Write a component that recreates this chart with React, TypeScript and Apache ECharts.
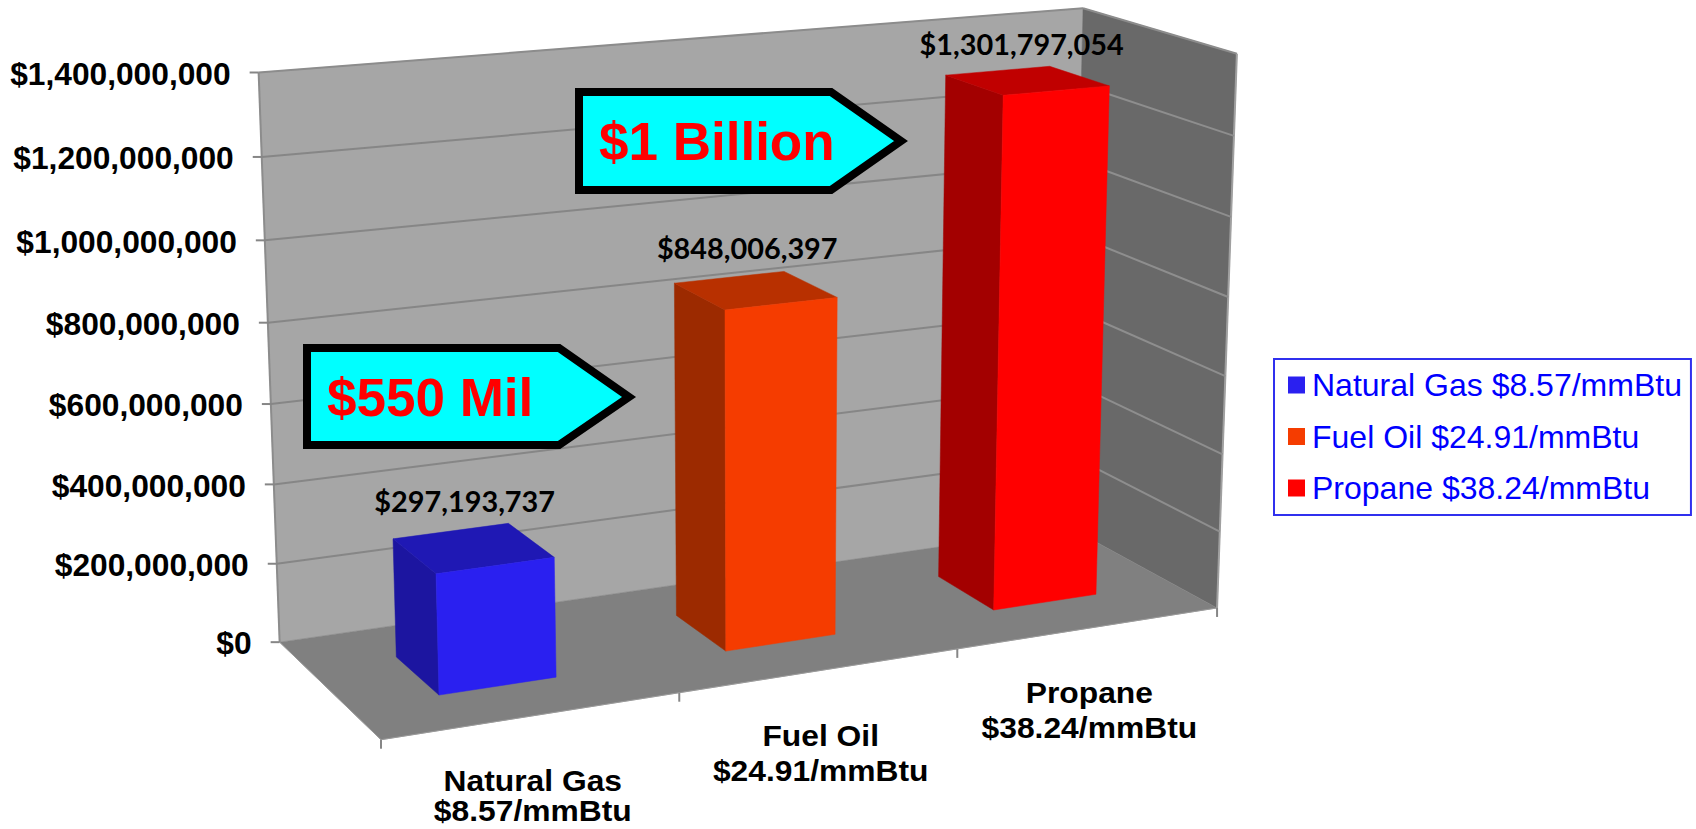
import React, { useEffect, useRef } from "react";
import * as echarts from "echarts";

const categories = ["Natural Gas", "Fuel Oil", "Propane"];
const prices = ["$8.57/mmBtu", "$24.91/mmBtu", "$38.24/mmBtu"];
const values = [297193737, 848006397, 1301797054];
const seriesNames = ["Natural Gas $8.57/mmBtu", "Fuel Oil $24.91/mmBtu", "Propane $38.24/mmBtu"];
const tickValues = [0, 200000000, 400000000, 600000000, 800000000, 1000000000, 1200000000, 1400000000];
const callouts = ["$550 Mil", "$1 Billion"];

const frontColors = ["#2a20f0", "#f53c00", "#ff0000"];
const sideColors = ["#1c15a0", "#9c2a00", "#a30000"];
const topColors = ["#1f18b4", "#b83000", "#c00000"];
const labelDx = [14, 18, 24];
const labelDy = [-30, -29, -27];

const GRID = { left: 280, top: 72, width: 792, height: 570 };

// Camera calibration: unit-box point [u, v, w] -> screen point of the walls
const calib: number[][] = [
  [0, 1, 0, 260, 72], [0, 6 / 7, 0, 262, 157], [0, 5 / 7, 0, 264, 241], [0, 4 / 7, 0, 267, 323],
  [0, 3 / 7, 0, 270.5, 404], [0, 2 / 7, 0, 273, 484], [0, 1 / 7, 0, 277, 563], [0, 0, 0, 280, 642],
  [1, 1, 0, 1082, 9], [0, 0, 1, 382, 740], [1 / 3, 0, 1, 679, 693], [2 / 3, 0, 1, 957, 650],
  [1, 0, 1, 1216, 607], [1, 1, 1, 1237, 53], [1, 6 / 7, 1, 1234, 136], [1, 5 / 7, 1, 1232, 217],
  [1, 4 / 7, 1, 1229, 297], [1, 3 / 7, 1, 1225, 376], [1, 2 / 7, 1, 1222, 454], [1, 1 / 7, 1, 1219.5, 532],
  [1, 0, 0, 1072, 528],
];

function solveCamera(): number[] {
  const n = 11;
  const A: number[][] = Array.from({ length: n }, () => new Array(n + 1).fill(0));
  const add = (r: number[], b: number) => {
    for (let i = 0; i < n; i++) {
      for (let j = 0; j < n; j++) A[i][j] += r[i] * r[j];
      A[i][n] += r[i] * b;
    }
  };
  calib.forEach(([u, v, w, sx, sy]) => {
    const x = sx / 1000;
    const y = sy / 1000;
    add([u, v, w, 1, 0, 0, 0, 0, -x * u, -x * v, -x * w], x);
    add([0, 0, 0, 0, u, v, w, 1, -y * u, -y * v, -y * w], y);
  });
  for (let c = 0; c < n; c++) {
    let p = c;
    for (let r = c + 1; r < n; r++) if (Math.abs(A[r][c]) > Math.abs(A[p][c])) p = r;
    [A[c], A[p]] = [A[p], A[c]];
    for (let r = 0; r < n; r++) {
      if (r === c) continue;
      const f = A[r][c] / A[c][c];
      for (let k = c; k <= n; k++) A[r][k] -= f * A[c][k];
    }
  }
  return A.map((row, i) => row[n] / row[i]);
}
const cam = solveCamera();
function project(u: number, v: number, w: number): number[] {
  const d = cam[8] * u + cam[9] * v + cam[10] * w + 1;
  return [
    (1000 * (cam[0] * u + cam[1] * v + cam[2] * w + cam[3])) / d,
    (1000 * (cam[4] * u + cam[5] * v + cam[6] * w + cam[7])) / d,
  ];
}

const poly = (points: number[][], fill: string) => ({
  type: "polygon",
  shape: { points },
  style: { fill, stroke: fill, lineWidth: 0.5 },
  silent: true,
});
const seg = (a: number[], b: number[], stroke: string, lineWidth = 2) => ({
  type: "line",
  shape: { x1: a[0], y1: a[1], x2: b[0], y2: b[1] },
  style: { stroke, lineWidth },
  silent: true,
});
const label = (text: string, x: number, y: number, font: string, fill: string, align: string, scaleX = 1) => ({
  type: "text",
  x,
  y,
  scaleX,
  silent: true,
  style: { text, font, fill, align, verticalAlign: "middle" },
});

const uOf = (px: number) => (px - GRID.left) / GRID.width;
const vOf = (py: number) => (GRID.top + GRID.height - py) / GRID.height;

const axisFont = 'bold 30.5px "Liberation Sans", Arial, sans-serif';
const catFont = 'bold 30px "Liberation Sans", Arial, sans-serif';
const dataFont = 'bold 28px Lato, sans-serif';

function renderWalls() {
  const c = (u: number, v: number, w: number) => project(u, v, w);
  return {
    type: "group",
    children: [
      poly([c(0, 1, 0), c(1, 1, 0), c(1, 0, 0), c(0, 0, 0)], "#a6a6a6"),
      poly([c(1, 1, 0), c(1, 1, 1), c(1, 0, 1), c(1, 0, 0)], "#696969"),
      poly([c(0, 0, 0), c(1, 0, 0), c(1, 0, 1), c(0, 0, 1)], "#808080"),
      seg(c(0, 1, 0), c(1, 1, 0), "#8c8c8c"),
      seg(c(1, 1, 0), c(1, 1, 1), "#8c8c8c"),
      seg(c(1, 1, 1), c(1, 0, 1), "#a0a0a0"),
      seg(c(0, 1, 0), c(0, 0, 0), "#8c8c8c"),
      seg(c(0, 0, 0), c(0, 0, 1), "#9a9a9a", 1),
      seg(c(0, 0, 1), c(1, 0, 1), "#9a9a9a", 1),
    ],
  };
}

function renderGrid(_: any, api: any) {
  const val = api.value(0);
  const v = vOf(api.coord([0, val])[1]);
  const a = project(0, v, 0);
  const b = project(1, v, 0);
  const f = project(1, v, 1);
  const children: any[] = [];
  if (val > 0 && val < 1400000000) {
    children.push(seg(a, b, "#868686"));
    children.push(seg(b, f, "#8e8e8e"));
  }
  children.push(seg([a[0] - 9, a[1]], a, "#868686"));
  const txt = "$" + val.toLocaleString("en-US");
  children.push(label(txt, a[0] - 28, a[1] + 2, axisFont, "#000000", "right", 1.04));
  return { type: "group", children };
}

function renderBar(_: any, api: any) {
  const idx = api.value(0);
  const val = api.value(1);
  const p = api.coord([idx, val]);
  const base = api.coord([idx, 0]);
  const band = api.size([1, 0])[0];
  const u0 = uOf(p[0] - band * 0.2);
  const u1 = uOf(p[0] + band * 0.2);
  const top = vOf(p[1]);
  const bot = vOf(base[1]);
  const w0 = 0.3;
  const w1 = 0.7;
  const backTop = [project(u0, top, w0), project(u1, top, w0)];
  const lx = (backTop[0][0] + backTop[1][0]) / 2 + labelDx[idx];
  const ly = (backTop[0][1] + backTop[1][1]) / 2 + labelDy[idx];
  return {
    type: "group",
    children: [
      poly([project(u0, top, w0), project(u0, top, w1), project(u0, bot, w1), project(u0, bot, w0)], sideColors[idx]),
      poly([project(u0, top, w0), project(u1, top, w0), project(u1, top, w1), project(u0, top, w1)], topColors[idx]),
      poly([project(u0, top, w1), project(u1, top, w1), project(u1, bot, w1), project(u0, bot, w1)], frontColors[idx]),
      label("$" + val.toLocaleString("en-US"), lx, ly, dataFont, "#000000", "center", 1.03),
    ],
  };
}

function renderCategory(_: any, api: any) {
  const idx = api.value(0);
  const p = api.coord([idx, 0]);
  const a = project(uOf(p[0]), 0, 1);
  return {
    type: "group",
    children: [
      label(categories[idx], a[0], a[1] + 65, catFont, "#000000", "center", 1.06),
      label(prices[idx], a[0], Math.min(a[1] + 100, 811), catFont, "#000000", "center", 1.06),
    ],
  };
}

function renderFrontTicks(_: any, api: any) {
  const idx = api.value(0);
  const band = api.size([1, 0])[0];
  const p = api.coord([idx, 0]);
  const a = project(uOf(p[0] - band / 2), 0, 1);
  const last = project(1, 0, 1);
  const children = [seg(a, [a[0], a[1] + 9], "#868686")];
  if (idx === categories.length - 1) children.push(seg(last, [last[0], last[1] + 9], "#868686"));
  return { type: "group", children };
}

const calloutShape = (pts: number[][]) => ({
  type: "polygon",
  shape: { points: pts },
  style: { fill: "#00ffff", stroke: "#000000", lineWidth: 8, lineJoin: "miter" },
  z: 20,
});
const calloutText = (text: string, x: number, y: number) => ({
  type: "text",
  x,
  y,
  z: 21,
  style: { text, font: 'bold 53px "Liberation Sans", Arial, sans-serif', fill: "#ff0000", align: "left", verticalAlign: "middle" },
});

export default function App() {
  const ref = useRef<HTMLDivElement>(null);
  useEffect(() => {
    document.body.style.margin = "0";
    const chart = echarts.init(ref.current!, undefined, { renderer: "svg" });
    const idxData = categories.map((_, i) => [i]);
    chart.setOption({
      animation: false,
      backgroundColor: "#ffffff",
      grid: { ...GRID },
      xAxis: { type: "category", data: categories, show: false },
      yAxis: { type: "value", min: 0, max: 1400000000, interval: 200000000, show: false },
      legend: {
        data: seriesNames,
        orient: "vertical",
        left: 1274,
        top: 359,
        padding: [10, 9, 11, 14],
        itemGap: 19.5,
        itemWidth: 17,
        itemHeight: 17,
        icon: "rect",
        selectedMode: false,
        borderColor: "#3030ee",
        borderWidth: 2,
        backgroundColor: "#ffffff",
        textStyle: {
          color: "#0000ff",
          fontFamily: '"Liberation Sans", Arial, sans-serif',
          fontSize: 32,
          padding: [0, 0, 0, 2],
        },
      },
      series: [
        { type: "custom", name: "walls", data: [[0]], renderItem: renderWalls, silent: true, z: 1 },
        { type: "custom", name: "ticks", data: tickValues.map((t) => [t]), encode: { y: 0 }, renderItem: renderGrid, silent: true, z: 2 },
        { type: "custom", name: "frontTicks", data: idxData, renderItem: renderFrontTicks, silent: true, z: 2 },
        { type: "custom", name: "categories", data: idxData, renderItem: renderCategory, silent: true, z: 2 },
        ...seriesNames.map((name, i) => ({
          type: "custom",
          name,
          data: [[i, values[i]]],
          encode: { x: 0, y: 1 },
          itemStyle: { color: frontColors[i] },
          renderItem: renderBar,
          silent: true,
          z: 3,
        })),
      ],
      graphic: [
        calloutShape([[579, 92], [831, 92], [901, 141], [831, 190], [579, 190]]),
        calloutText(callouts[1], 599, 141),
        calloutShape([[307, 348], [559, 348], [629, 397], [559, 445], [307, 445]]),
        calloutText(callouts[0], 327, 397),
      ],
    });
    return () => chart.dispose();
  }, []);
  return <div ref={ref} style={{ position: "fixed", left: 0, top: 0, width: 1696, height: 829 }} />;
}
